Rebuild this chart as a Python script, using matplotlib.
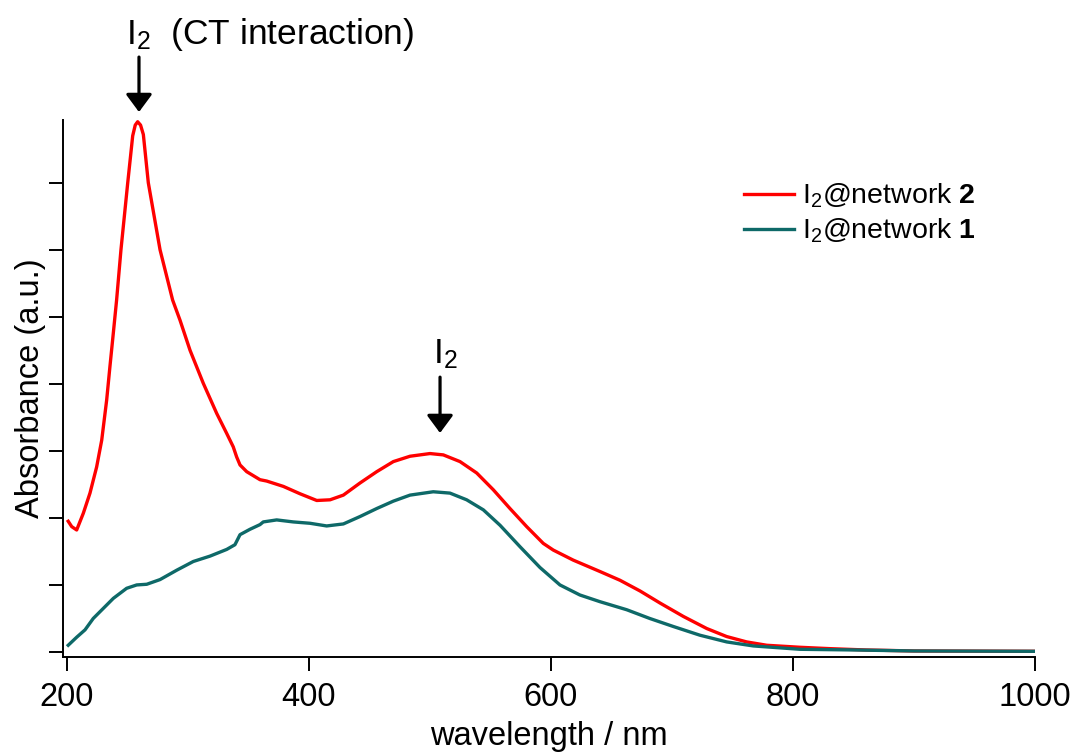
import matplotlib
matplotlib.use("Agg")
import matplotlib.pyplot as plt

plt.rcParams['font.family'] = ['Liberation Sans', 'DejaVu Sans']
plt.rcParams['mathtext.fontset'] = 'custom'
plt.rcParams['mathtext.rm'] = 'Liberation Sans'
plt.rcParams['mathtext.it'] = 'Liberation Sans:italic'
plt.rcParams['mathtext.bf'] = 'Liberation Sans:bold'

# I2@network 2 (red)
wl_net2 = [201.0, 203.9, 208.0, 213.5, 219.0, 224.5, 228.7, 232.8, 235.5, 238.3,
           241.0, 244.6, 250.2, 254.3, 256.4, 258.4, 260.8, 263.1, 267.2, 276.9,
           287.3, 293.4, 301.7, 312.6, 323.7, 332.0, 337.4, 340.2, 343.0, 348.5,
           359.5, 365.0, 378.8, 392.6, 406.4, 417.4, 428.4, 442.1, 456.0, 469.7,
           483.5, 500.0, 511.0, 524.8, 538.6, 552.3, 566.1, 579.9, 593.6, 601.9,
           618.4, 640.5, 657.0, 673.6, 690.1, 709.4, 728.7, 745.2, 761.7, 778.3,
           805.8, 830.0, 860.0, 900.0, 1000.0]
abs_net2 = [1.95, 1.87, 1.82, 2.07, 2.37, 2.76, 3.16, 3.76, 4.26, 4.76,
            5.25, 6.00, 7.00, 7.70, 7.86, 7.91, 7.86, 7.72, 7.00, 6.00,
            5.25, 4.95, 4.50, 4.01, 3.56, 3.26, 3.06, 2.91, 2.79, 2.69,
            2.57, 2.55, 2.47, 2.36, 2.26, 2.27, 2.34, 2.52, 2.69, 2.84,
            2.92, 2.96, 2.94, 2.84, 2.67, 2.42, 2.14, 1.87, 1.62, 1.52,
            1.37, 1.20, 1.07, 0.91, 0.73, 0.53, 0.35, 0.23, 0.15, 0.10,
            0.07, 0.05, 0.03, 0.015, 0.01]

# I2@network 1 (teal)
wl_net1 = [201.0, 208.0, 214.9, 221.7, 230.0, 238.3, 249.3, 257.6, 265.9, 276.9,
           290.7, 304.4, 318.2, 332.0, 338.8, 343.0, 351.2, 359.5, 362.2, 373.3,
           387.0, 400.8, 414.6, 428.4, 442.1, 456.0, 469.7, 483.5, 502.7, 516.5,
           530.3, 544.1, 557.9, 574.4, 590.9, 607.4, 623.9, 640.5, 662.6, 681.6,
           701.1, 723.1, 745.2, 767.2, 805.8, 850.0, 900.0, 1000.0]
abs_net1 = [0.10, 0.22, 0.33, 0.50, 0.65, 0.80, 0.95, 1.00, 1.01, 1.08,
            1.22, 1.35, 1.43, 1.53, 1.60, 1.75, 1.83, 1.90, 1.94, 1.97,
            1.94, 1.92, 1.88, 1.91, 2.02, 2.14, 2.25, 2.34, 2.39, 2.37,
            2.27, 2.12, 1.89, 1.57, 1.26, 1.00, 0.85, 0.75, 0.63, 0.50,
            0.38, 0.25, 0.15, 0.09, 0.04, 0.03, 0.015, 0.01]

x_ticks = [200, 400, 600, 800, 1000]
y_ticks = [0, 1, 2, 3, 4, 5, 6, 7]

W, H = 1075, 754
fig = plt.figure(figsize=(W / 100, H / 100), dpi=100)
ax = fig.add_axes([63 / W, (H - 657) / H, 972 / W, 537 / H])

ax.plot(wl_net2, abs_net2, color='#ff0000', lw=2.4, label=r'I$_2$@network $\mathbf{2}$')
ax.plot(wl_net1, abs_net1, color='#0e6968', lw=2.4, label=r'I$_2$@network $\mathbf{1}$')

ax.set_xlim(196.7, 1000)
ax.set_ylim(-0.075, 7.936)
ax.set_xticks(x_ticks)
ax.set_yticks(y_ticks)
ax.set_yticklabels([])
for s in ['top', 'right']:
    ax.spines[s].set_visible(False)
for s in ['left', 'bottom']:
    ax.spines[s].set_linewidth(1.4)
ax.tick_params(axis='x', direction='out', length=10, width=1.4, labelsize=23.5, pad=8)
ax.tick_params(axis='y', direction='out', length=10, width=1.4)

ax.set_xlabel('wavelength / nm', fontsize=23.5, labelpad=5.5)
ax.set_ylabel('Absorbance (a.u.)', fontsize=23.5, labelpad=-1)

leg = ax.legend(loc='upper left', bbox_to_anchor=(744 / W, (H - 182) / H),
                bbox_transform=fig.transFigure, frameon=False, fontsize=20.5,
                handlelength=1.75, handletextpad=0.28, labelspacing=0.22,
                borderpad=0, borderaxespad=0)

arrow_style = dict(arrowstyle='-|>,head_length=0.54,head_width=0.4',
                   color='black', lw=2.3, shrinkA=0, shrinkB=0, mutation_scale=20)

# annotations
fig.text(126 / W, 1 - 44 / H, r'I$_2$  (CT interaction)', fontsize=25.5, ha='left', va='baseline')
ax.annotate('', xy=(259.5, 8.055), xycoords='data',
            xytext=(259.5, 8.875), textcoords='data',
            arrowprops=arrow_style, annotation_clip=False)
fig.text(433 / W, 1 - 363 / H, r'I$_2$', fontsize=25.5, ha='left', va='baseline')
ax.annotate('', xy=(508.3, 3.267), xycoords='data',
            xytext=(508.3, 4.10), textcoords='data',
            arrowprops=arrow_style)

fig.savefig('out.png', dpi=100)
